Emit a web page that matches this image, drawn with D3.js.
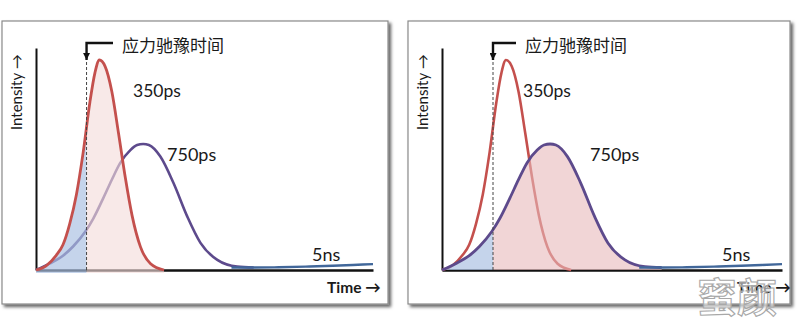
<!DOCTYPE html>
<html>
<head>
<meta charset="utf-8">
<script src="https://cdn.jsdelivr.net/npm/d3@7"></script>
<style>
  body { margin: 0; background: #fff; }
  svg { display: block; }
  text { font-family: Lato, "Open Sans", sans-serif; fill: #1a1a1a; }
  .cjk { font-family: "Noto Sans CJK SC", sans-serif; }
</style>
</head>
<body>
<svg id="chart" width="800" height="325"></svg>
<script>
// Decay curves (time in arbitrary units, intensity relative to the 350ps peak)
const time350 = [0, 3, 6, 8, 10, 12, 14, 16, 17.5, 18.8, 20.5, 22.5, 24.5, 26.5, 28.5, 31, 34, 38];
const int350 = [0, 0.02, 0.07, 0.12, 0.22, 0.36, 0.56, 0.8, 0.94, 1.0, 0.97, 0.85, 0.65, 0.44, 0.26, 0.11, 0.03, 0];

const time750 = [0, 4, 8, 11, 14.6, 17, 19.9, 22.5, 25, 28, 30, 31.8, 33.5, 36.9, 40.8, 44.9, 48.8, 53.8, 59.7, 64.6];
const int750 = [0, 0.03, 0.068, 0.112, 0.182, 0.245, 0.34, 0.43, 0.51, 0.571, 0.595, 0.6, 0.595, 0.54, 0.414, 0.254, 0.129, 0.048, 0.016, 0.012];

const time5ns = [58, 65, 72, 80, 88, 94, 100];
const int5ns = [0.012, 0.012, 0.013, 0.016, 0.02, 0.024, 0.028];

const relaxTime = 15; // stress relaxation cut-off
const lifetimeLabels = ["350ps", "750ps", "5ns"];
const annotation = "应力驰豫时间";

const zip = (t, v) => t.map((d, i) => ({ t: d, v: v[i] }));
const s350 = zip(time350, int350);
const s750 = zip(time750, int750);
const s5ns = zip(time5ns, int5ns);

const red = "#c4504d", purple = "#5d4a8c", blue = "#41679a";

// Two panels: left highlights the 350ps component, right the 750ps one
const panels = [
  { box: [2, 21, 386, 283], x0: 36, x1: 373, focus: "350", pink: "#f4dcda", pinkOp: 0.62,
    lab350: [133, 97], lab750: [167, 161], lab5: [312, 261], note: 122, time: 327, intens: 17 },
  { box: [408, 21, 382, 283], x0: 442, x1: 782, focus: "750", pink: "#e8b9ba", pinkOp: 0.6,
    lab350: [523, 97], lab750: [590, 161], lab5: [722, 261], note: 525, time: 737, intens: 423 }
];

const svg = d3.select("#chart");
const defs = svg.append("defs");
defs.append("filter").attr("id", "shadow")
  .attr("x", "-5%").attr("y", "-5%").attr("width", "115%").attr("height", "115%")
  .append("feDropShadow")
  .attr("dx", 2.5).attr("dy", 2.5).attr("stdDeviation", 1.5)
  .attr("flood-color", "#000").attr("flood-opacity", 0.6);

defs.append("marker").attr("id", "head")
  .attr("viewBox", "0 0 10 10").attr("refX", 5).attr("refY", 10)
  .attr("markerWidth", 7).attr("markerHeight", 8).attr("markerUnits", "userSpaceOnUse")
  .attr("orient", "0")
  .append("path").attr("d", "M0,0 L10,0 L5,10 Z").attr("fill", "#111");

const yTop = 48, yBase = 270;
const y = d3.scaleLinear().domain([0, 1]).range([yBase, 60]);

panels.forEach((p, k) => {
  const g = svg.append("g");
  g.append("rect")
    .attr("x", p.box[0]).attr("y", p.box[1]).attr("width", p.box[2]).attr("height", p.box[3])
    .attr("fill", "#fff").attr("stroke", "#8a8a8a").attr("stroke-width", 1.2)
    .attr("filter", "url(#shadow)");

  const x = d3.scaleLinear().domain([0, 100]).range([p.x0, p.x1]);
  const line = d3.line().x(d => x(d.t)).y(d => y(d.v)).curve(d3.curveMonotoneX);
  const area = d3.area().x(d => x(d.t)).y0(y(0) + (k === 0 ? 3 : 0)).y1(d => y(d.v)).curve(d3.curveMonotoneX);

  // axes
  g.append("g").attr("transform", `translate(0,${yBase})`)
    .call(d3.axisBottom(x).ticks(0).tickSizeOuter(0))
    .select(".domain").attr("stroke", "#111").attr("stroke-width", 2.6);
  const yAxisScale = d3.scaleLinear().domain([0, 1]).range([yBase, yTop]);
  g.append("g").attr("transform", `translate(${p.x0},0)`)
    .call(d3.axisLeft(yAxisScale).ticks(0).tickSizeOuter(0))
    .select(".domain").attr("stroke", "#111").attr("stroke-width", 2);

  const focus = p.focus === "350" ? s350 : s750;
  const other = p.focus === "350" ? s750 : s350;
  const otherColor = p.focus === "350" ? purple : red;
  const focusColor = p.focus === "350" ? red : purple;

  g.append("path").datum(other).attr("d", line)
    .attr("fill", "none").attr("stroke", otherColor).attr("stroke-width", 2.6);

  // split the focused area at the relaxation time
  const clipL = `clipL${k}`, clipR = `clipR${k}`;
  defs.append("clipPath").attr("id", clipL).append("rect")
    .attr("x", x(0)).attr("y", 0).attr("width", x(relaxTime) - x(0)).attr("height", 325);
  defs.append("clipPath").attr("id", clipR).append("rect")
    .attr("x", x(relaxTime)).attr("y", 0).attr("width", x(100) - x(relaxTime)).attr("height", 325);

  g.append("path").datum(focus).attr("d", area)
    .attr("fill", "#a9c0e2").attr("fill-opacity", 0.68).attr("clip-path", `url(#${clipL})`);
  g.append("path").datum(focus).attr("d", area)
    .attr("fill", p.pink).attr("fill-opacity", p.pinkOp).attr("clip-path", `url(#${clipR})`);

  g.append("path").datum(focus).attr("d", line)
    .attr("fill", "none").attr("stroke", focusColor).attr("stroke-width", 2.8);

  g.append("path").datum(s5ns).attr("d", line)
    .attr("fill", "none").attr("stroke", blue).attr("stroke-width", 2.4);

  // relaxation marker
  const xr = x(relaxTime);
  g.append("line").attr("x1", xr).attr("x2", xr).attr("y1", 62).attr("y2", yBase)
    .attr("stroke", "#444").attr("stroke-width", 1).attr("stroke-dasharray", "3,2");
  g.append("path")
    .attr("d", `M${p.note - 9},43 H${xr} V60`)
    .attr("fill", "none").attr("stroke", "#111").attr("stroke-width", 2.4)
    .attr("marker-end", "url(#head)");
  g.append("text").attr("class", "cjk").attr("x", p.note).attr("y", 52)
    .attr("font-size", 17).text(annotation);

  g.append("text").attr("x", p.lab350[0]).attr("y", p.lab350[1]).attr("font-size", 17.5).text(lifetimeLabels[0]);
  g.append("text").attr("x", p.lab750[0]).attr("y", p.lab750[1]).attr("font-size", 18).text(lifetimeLabels[1]);
  g.append("text").attr("x", p.lab5[0]).attr("y", p.lab5[1]).attr("font-size", 18).text(lifetimeLabels[2]);

  g.append("text").attr("x", p.time).attr("y", 293).attr("font-size", 15.5)
    .attr("font-weight", "bold").text("Time →");
  g.append("text")
    .attr("transform", `translate(${p.intens + 5},130) rotate(-90)`)
    .attr("font-size", 15).text("Intensity →");
});

// watermark
svg.append("text").attr("class", "cjk")
  .attr("x", 697).attr("y", 312).attr("font-size", 40).attr("font-weight", "bold")
  .attr("stroke", "#a8a8a8").attr("stroke-width", 1.1)
  .style("fill", "rgba(255,255,255,0.55)")
  .text("蜜颜");
</script>
</body>
</html>
